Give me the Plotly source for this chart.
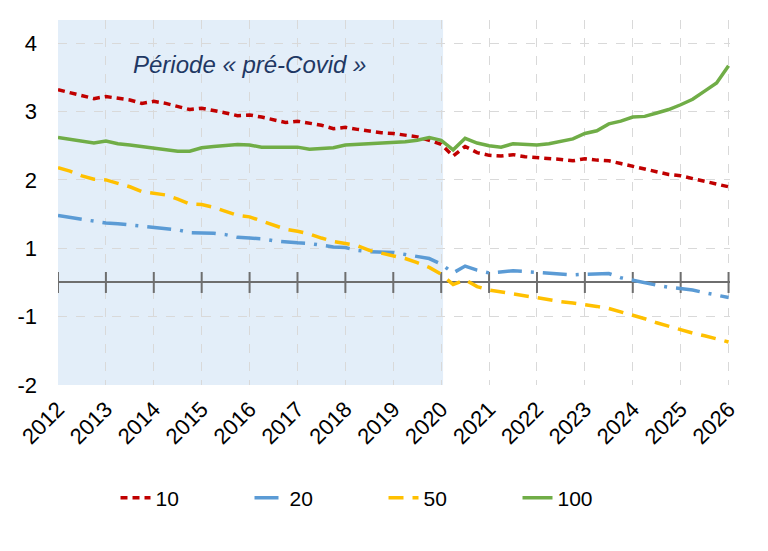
import plotly.graph_objects as go

# quarterly dates, 2012Q1 .. 2026Q1
dates = [2012 + i / 4 for i in range(57)]
years = list(range(2012, 2027))

# values in axis units (the "0" line sits between the "1" and "-1" gridlines)
y_ticks = [3.5, 2.5, 1.5, 0.5, -0.5, -1.5]
y_labels = ["4", "3", "2", "1", "-1", "-2"]

s10 = [2.82, 2.78, 2.73, 2.69, 2.72, 2.70, 2.67, 2.62, 2.65, 2.62, 2.58, 2.53,
       2.55, 2.52, 2.48, 2.44, 2.45, 2.42, 2.38, 2.34, 2.36, 2.33, 2.30, 2.25,
       2.27, 2.24, 2.21, 2.19, 2.18, 2.16, 2.13, 2.08, 2.02, 1.85, 1.99, 1.90,
       1.86, 1.85, 1.87, 1.84, 1.83, 1.82, 1.80, 1.78, 1.81, 1.79, 1.78, 1.74,
       1.70, 1.66, 1.62, 1.58, 1.56, 1.52, 1.48, 1.44, 1.40]
s20 = [0.98, 0.95, 0.92, 0.89, 0.87, 0.86, 0.84, 0.82, 0.81, 0.79, 0.77, 0.73,
       0.73, 0.72, 0.70, 0.66, 0.65, 0.64, 0.61, 0.59, 0.58, 0.57, 0.54, 0.52,
       0.51, 0.47, 0.45, 0.44, 0.44, 0.41, 0.38, 0.35, 0.27, 0.14, 0.24, 0.18,
       0.14, 0.15, 0.17, 0.16, 0.15, 0.14, 0.13, 0.11, 0.12, 0.12, 0.13, 0.07,
       0.03, 0.00, -0.04, -0.07, -0.09, -0.11, -0.15, -0.18, -0.22]
s50 = [1.68, 1.63, 1.56, 1.51, 1.50, 1.45, 1.40, 1.33, 1.31, 1.28, 1.22, 1.15,
       1.14, 1.10, 1.04, 0.98, 0.96, 0.90, 0.84, 0.78, 0.75, 0.71, 0.65, 0.60,
       0.57, 0.54, 0.47, 0.43, 0.40, 0.35, 0.29, 0.22, 0.12, -0.03, 0.04, -0.06,
       -0.11, -0.14, -0.16, -0.20, -0.22, -0.25, -0.28, -0.30, -0.32, -0.35, -0.38, -0.43,
       -0.47, -0.53, -0.59, -0.64, -0.70, -0.74, -0.78, -0.82, -0.87]
s100 = [2.12, 2.09, 2.06, 2.04, 2.07, 2.03, 2.01, 1.99, 1.97, 1.94, 1.92, 1.92,
        1.97, 1.99, 2.01, 2.02, 2.01, 1.98, 1.98, 1.98, 1.98, 1.95, 1.96, 1.97,
        2.01, 2.02, 2.02, 2.03, 2.04, 2.06, 2.08, 2.12, 2.08, 1.94, 2.11, 2.04,
        2.00, 1.98, 2.03, 2.02, 2.01, 2.03, 2.06, 2.10, 2.18, 2.22, 2.32, 2.36,
        2.42, 2.43, 2.48, 2.53, 2.60, 2.68, 2.80, 2.92, 3.17]

font = "Arial, Liberation Sans, sans-serif"

fig = go.Figure()

# pre-covid shaded period
fig.add_shape(type="rect", xref="x", yref="paper", x0=2012, x1=2020.04, y0=0, y1=1,
              fillcolor="#E3EEF9", line_width=0, layer="below")

# tick marks on the zero line
fig.add_trace(go.Scatter(x=years, y=[0] * len(years), mode="markers",
                         marker=dict(symbol="line-ns-open", size=15, color="#6E6E6E",
                                     line=dict(width=2, color="#6E6E6E")),
                         showlegend=False, hoverinfo="skip"))

series = [
    ("10", s10, "#C00000", "7px,5px"),
    ("20", s20, "#5B9BD5", "24px,9px,3px,9px"),
    ("50", s50, "#FFC000", "15px,9px"),
    ("100", s100, "#70AD47", "solid"),
]
for name, vals, color, dash in series:
    fig.add_trace(go.Scatter(x=dates, y=vals, mode="lines", name=name,
                             line=dict(color=color, width=3.5, dash=dash)))

fig.add_annotation(x=2016.0, y=3.19, xref="x", yref="y", showarrow=False,
                   text="<i>Période « pré-Covid »</i>",
                   font=dict(family=font, size=24, color="#1F3864"))

fig.update_xaxes(range=[2012, 2026.03], tickvals=years, ticktext=[str(y) for y in years],
                 tickangle=-45, tickfont=dict(family=font, size=22, color="black"),
                 showgrid=True, gridcolor="#D9D9D9", griddash="dash", gridwidth=1,
                 zeroline=False, showline=False, ticks="", ticklabelstandoff=6)
fig.update_yaxes(range=[-1.5, 3.84], tickvals=y_ticks, ticktext=y_labels,
                 tickfont=dict(family=font, size=22, color="black"),
                 showgrid=True, gridcolor="#D9D9D9", griddash="dash", gridwidth=1,
                 zeroline=True, zerolinecolor="#6E6E6E", zerolinewidth=2,
                 showline=False, ticks="", ticklabelstandoff=20)

fig.update_layout(
    width=768, height=551,
    margin=dict(l=58, r=38, t=20, b=166),
    plot_bgcolor="white", paper_bgcolor="white",
    font=dict(family=font, color="black"),
    legend=dict(orientation="h", xref="container", yref="container",
                x=0.1504, y=0.096, xanchor="left", yanchor="middle",
                font=dict(family=font, size=21, color="black"),
                entrywidth=89, bgcolor="rgba(0,0,0,0)"),
)

fig.write_html("out.html", config={"displayModeBar": False},
               post_script="document.body.style.margin='0';")
